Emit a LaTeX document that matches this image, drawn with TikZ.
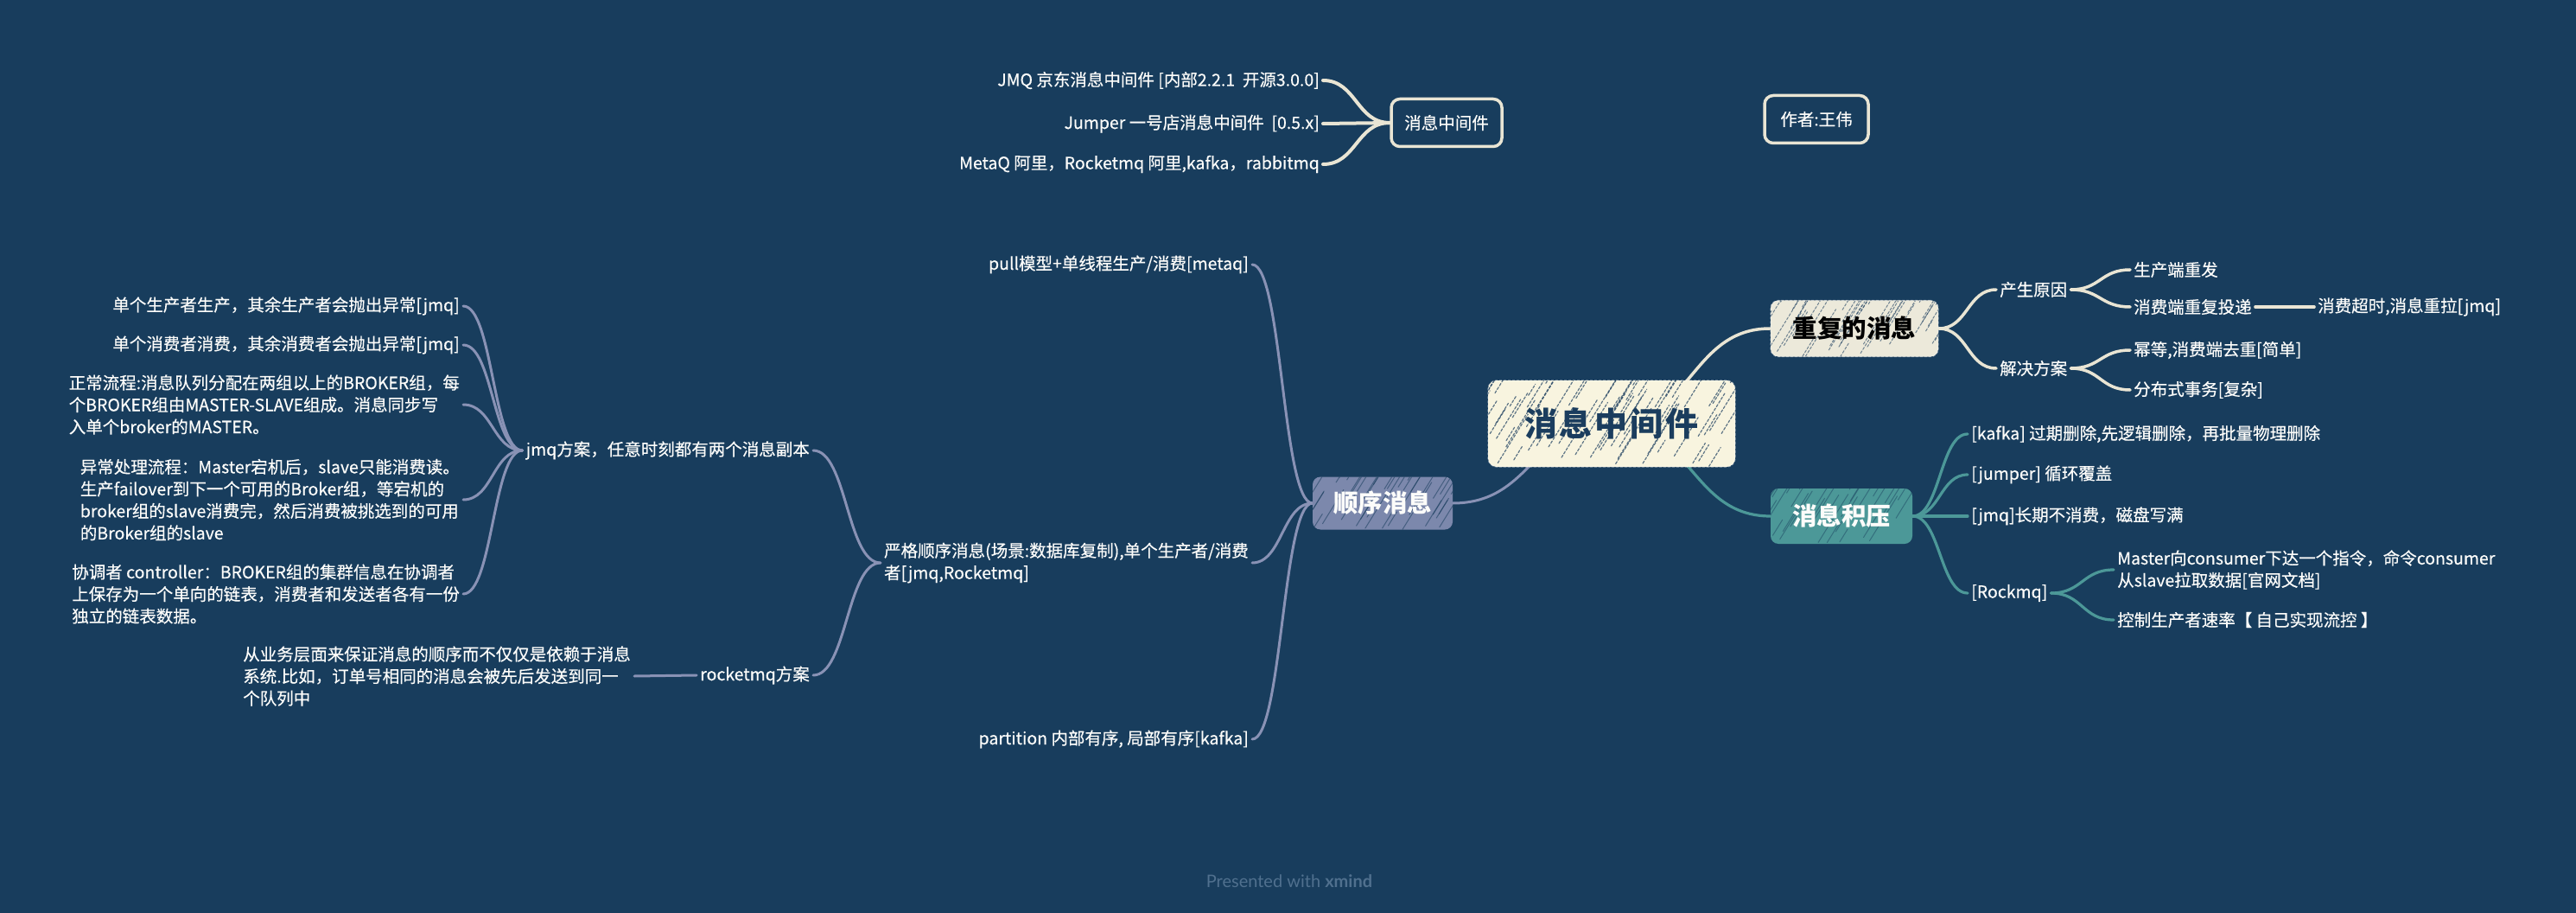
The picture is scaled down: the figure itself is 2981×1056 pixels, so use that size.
\documentclass[tikz,border=0pt]{standalone}
\usepackage{fontspec}
\setmainfont{Noto Sans CJK SC}
\newfontfamily\leaffont[FakeBold=0.35]{Noto Sans CJK SC}
\newfontfamily\wmfont{Lato}
\usetikzlibrary{calc}
\definecolor{bgc}{RGB}{24,61,93}
\definecolor{cream}{RGB}{248,244,223}
\definecolor{navy}{RGB}{27,61,94}
\definecolor{beige}{RGB}{236,233,218}
\definecolor{tealbox}{RGB}{76,152,152}
\definecolor{slatebox}{RGB}{124,136,172}
\definecolor{lncream}{RGB}{233,229,212}
\definecolor{lnteal}{RGB}{76,152,152}
\definecolor{lnslate}{RGB}{137,146,181}
\definecolor{wmcol}{RGB}{80,112,142}
\definecolor{txt}{RGB}{252,252,250}
\pgfdeclarelayer{bglayer}
\pgfdeclarelayer{edgelayer}
\pgfsetlayers{bglayer,edgelayer,main}
\newcommand\linkto[3]{%
  \draw[#1] let \p1=(#2), \p2=(#3), \n1={0.5*(\x2-\x1)}, \n2={0.5*(\x1-\x2)} in
    (\p1) .. controls +(\n1,0) and +(\n2,0) .. (\p2);}
\tikzset{
  leaf/.style={text=txt, font=\leaffont\fontsize{19.5}{25.5}\selectfont, inner sep=4pt, align=left},
  boxout/.style={draw=lncream, line width=3.5pt, rounded corners=10pt, text=txt,
    font=\leaffont\fontsize{19.5}{25.5}\selectfont, inner sep=4pt},
  mainbox/.style={rounded corners=9pt, font=\fontsize{28.5}{30}\selectfont\bfseries, inner sep=2pt},
  rough/.style={draw=white, draw opacity=0.4, line width=1.4pt, dash pattern=on 3pt off 2pt},
  hatch/.style n args={6}{path picture={%
    \foreach \k in {1,...,#3}{%
      \pgfmathsetmacro\hpa{rnd*(#1+60)-60}%
      \pgfmathsetmacro\hpb{rnd*#2}%
      \pgfmathsetmacro\hpl{12+rnd*55}%
      \draw[draw=#4, line width=#5, opacity=#6, line cap=round] ($(path picture bounding box.south west)+(\hpa,-\hpb)$) -- ++({0.62*\hpl},{-\hpl});
    }}},
  ecream/.style={draw=lncream, line width=3.5pt, line cap=round},
  etop/.style={draw=lncream, line width=4pt, line cap=round},
  eteal/.style={draw=lnteal, line width=3.2pt, line cap=round},
  eslate/.style={draw=lnslate, line width=3pt, line cap=round},
}
\begin{document}
\begin{tikzpicture}[x=1pt,y=-1pt]
\pgfmathsetseed{11}
\useasboundingbox (0,0) rectangle (2981,1056);
\begin{pgfonlayer}{bglayer}
\fill[bgc] (0,0) rectangle (2981,1056);
\end{pgfonlayer}

% top cluster
\node[boxout, minimum width=128pt, minimum height=55pt] (mw) at (1674,142) {消息中间件};
\node[boxout, minimum width=120pt, minimum height=55pt] (author) at (2102,138) {作者:王伟};
\node[leaf, anchor=east] (jmqv) at (1531,93) {JMQ 京东消息中间件 [内部2.2.1\ \ 开源3.0.0]};
\node[leaf, anchor=east] (jumper) at (1531,143) {Jumper 一号店消息中间件\ \ [0.5.x]};
\node[leaf, anchor=east] (metaq) at (1531,190) {MetaQ 阿里，Rocketmq 阿里,kafka，rabbitmq};

% central
\node[rounded corners=10pt, fill=cream, rough, minimum width=286pt, minimum height=100pt, text=navy,
  font=\fontsize{38}{40}\selectfont\bfseries,
  hatch={286}{100}{85}{navy}{1.2pt}{0.7}] (central) at (1865,490)
  {消\hspace{3pt}息\hspace{3pt}中\hspace{3pt}间\hspace{3pt}件};

% repeated messages
\node[mainbox, fill=beige, rough, text=black, minimum width=194pt, minimum height=65pt,
  hatch={194}{65}{55}{navy}{1pt}{0.6}] (dup) at (2146,380) {重复的消息};
\node[leaf, anchor=west] (cause) at (2310,335) {产生原因};
\node[leaf, anchor=west] (sol) at (2310,426) {解决方案};
\node[leaf, anchor=west] (c1) at (2465,312) {生产端重发};
\node[leaf, anchor=west] (c2) at (2465,355) {消费端重复投递};
\node[leaf, anchor=west] (c3) at (2678,355) {消费超时,消息重拉[jmq]};
\node[leaf, anchor=west] (s1) at (2465,405) {幂等,消费端去重[简单]};
\node[leaf, anchor=west] (s2) at (2465,451) {分布式事务[复杂]};

% backlog
\node[mainbox, fill=tealbox, text=txt, minimum width=164pt, minimum height=64pt,
  hatch={164}{64}{45}{bgc}{1pt}{0.45}] (backlog) at (2131,597) {消息积压};
\node[leaf, anchor=west] (k1) at (2277,502) {[kafka] 过期删除,先逻辑删除，再批量物理删除};
\node[leaf, anchor=west] (k2) at (2277,549) {[jumper] 循环覆盖};
\node[leaf, anchor=west] (k3) at (2277,597) {[jmq]长期不消费，磁盘写满};
\node[leaf, anchor=west] (k4) at (2277,686) {[Rockmq]};
\node[leaf, anchor=west] (k5) at (2446,659) {Master向consumer下达一个指令，命令consumer\\从slave拉取数据[官网文档]};
\node[leaf, anchor=west] (k6) at (2446,717) {控制生产者速率【 自己实现流控 】};

% ordered messages
\node[mainbox, fill=slatebox, text=txt, minimum width=162pt, minimum height=61pt,
  hatch={162}{61}{45}{bgc}{1pt}{0.55}] (order) at (1600,582) {顺序消息};
\node[leaf, anchor=east] (o1) at (1449,306) {pull模型+单线程生产/消费[metaq]};
\node[leaf, anchor=east] (o2) at (1449,651) {严格顺序消息(场景:数据库复制),单个生产者/消费\\者[jmq,Rocketmq]};
\node[leaf, anchor=east] (o3) at (1449,855) {partition 内部有序, 局部有序[kafka]};
\node[leaf, anchor=east] (j1) at (941,521) {jmq方案，任意时刻都有两个消息副本};
\node[leaf, anchor=east] (r1) at (941,781) {rocketmq方案};
\node[leaf, anchor=east] (a1) at (536,354) {单个生产者生产，其余生产者会抛出异常[jmq]};
\node[leaf, anchor=east] (a2) at (536,399) {单个消费者消费，其余消费者会抛出异常[jmq]};
\node[leaf, anchor=east] (a3) at (536,468) {正常流程:消息队列分配在两组以上的BROKER组，每\\个BROKER组由MASTER-SLAVE组成。消息同步写\\入单个broker的MASTER。};
\node[leaf, anchor=east] (a4) at (536,578) {异常处理流程：Master宕机后，slave只能消费读。\\生产failover到下一个可用的Broker组，等宕机的\\broker组的slave消费完，然后消费被挑选到的可用\\的Broker组的slave};
\node[leaf, anchor=east] (a5) at (536,687) {协调者 controller：BROKER组的集群信息在协调者\\上保存为一个单向的链表，消费者和发送者各有一份\\独立的链表数据。};
\node[leaf, anchor=east] (b1) at (734,782) {从业务层面来保证消息的顺序而不仅仅是依赖于消息\\系统.比如，订单号相同的消息会被先后发送到同一\\个队列中};

% watermark
\node[text=wmcol, font=\wmfont\fontsize{20}{22}\selectfont] (wm) at (1492,1019) {Presented with \textbf{xmind}};

\begin{pgfonlayer}{edgelayer}
\linkto{etop}{mw.west}{jmqv.east}
\linkto{etop}{mw.west}{jumper.east}
\linkto{etop}{mw.west}{metaq.east}
\linkto{ecream}{central.center}{dup.west}
\linkto{eteal}{central.center}{backlog.west}
\linkto{eslate}{central.center}{order.east}
\linkto{ecream}{dup.east}{cause.west}
\linkto{ecream}{dup.east}{sol.west}
\linkto{ecream}{cause.east}{c1.west}
\linkto{ecream}{cause.east}{c2.west}
\linkto{ecream}{c2.east}{c3.west}
\linkto{ecream}{sol.east}{s1.west}
\linkto{ecream}{sol.east}{s2.west}
\linkto{eteal}{backlog.east}{k1.west}
\linkto{eteal}{backlog.east}{k2.west}
\linkto{eteal}{backlog.east}{k3.west}
\linkto{eteal}{backlog.east}{k4.west}
\linkto{eteal}{k4.east}{k5.west}
\linkto{eteal}{k4.east}{k6.west}
\linkto{eslate}{order.west}{o1.east}
\linkto{eslate}{order.west}{o2.east}
\linkto{eslate}{order.west}{o3.east}
\linkto{eslate}{o2.west}{j1.east}
\linkto{eslate}{o2.west}{r1.east}
\linkto{eslate}{j1.west}{a1.east}
\linkto{eslate}{j1.west}{a2.east}
\linkto{eslate}{j1.west}{a3.east}
\linkto{eslate}{j1.west}{a4.east}
\linkto{eslate}{j1.west}{a5.east}
\linkto{eslate}{r1.west}{b1.east}
\end{pgfonlayer}
\end{tikzpicture}
\end{document}
